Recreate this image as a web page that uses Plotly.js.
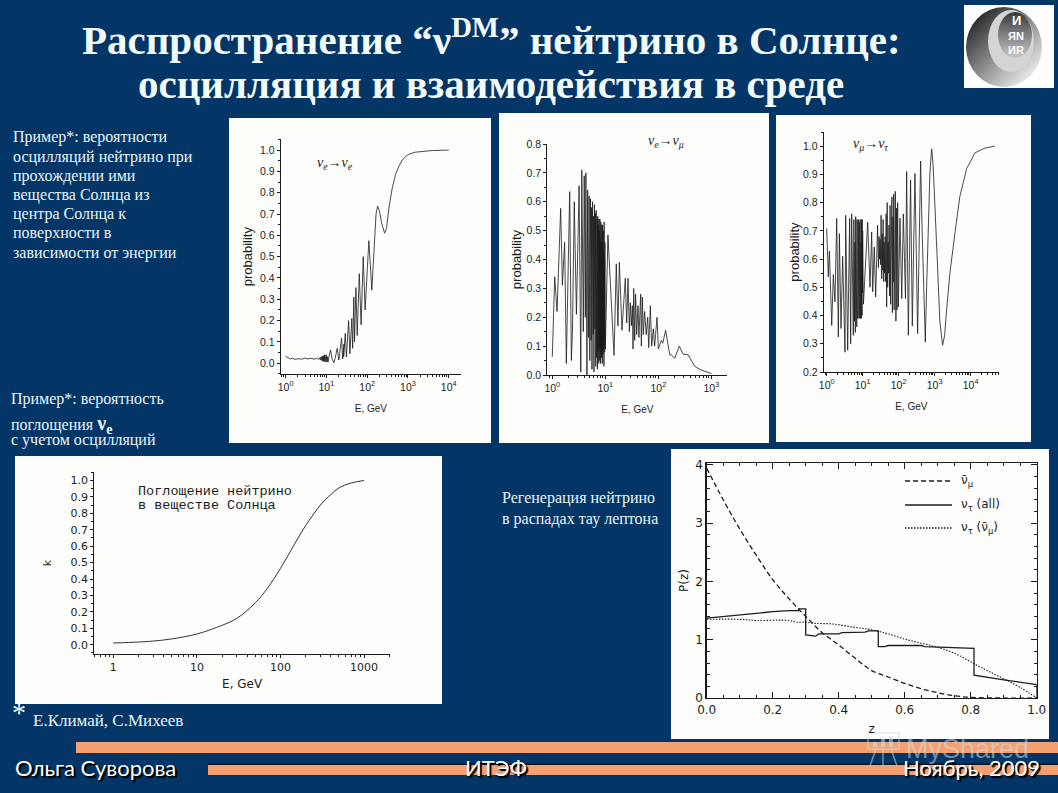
<!DOCTYPE html>
<html><head><meta charset="utf-8">
<script src="https://cdn.plot.ly/plotly-3.0.1.min.js"></script>
<style>html,body{margin:0;padding:0;background:#033567;overflow:hidden}</style>
</head><body><div id="chart" style="width:1058px;height:793px"></div>
<script>
// ---------- data ----------
const eeE=[1,1.15,1.3,1.5,1.7,2,2.5,3,3.5,4,5,6,6.5,7,7.2,7.5,7.8,8,8.2,8.4,8.6,8.8,9,9.2,9.4,9.6,9.8,10,10.3,10.6,11,11.5,12.7,13.8,15.3,16.5,18.4,20.2,23.6,25,27,26.5,29,31,33,32,35,37.7,40,39,42,44,47,49,53,57,64,71,80,89,110,130,150,165,180,200,225,267,300,340,410,495,600,720,870,1050,1500,2000,4000,10000];
const eeP=[.033,.027,.02,.023,.018,.021,.019,.024,.02,.023,.019,.024,.017,.027,.015,.03,.012,.033,.01,.035,.008,.036,.008,.04,.006,.04,.006,.038,.005,.03,.006,.03,.062,.02,.003,.025,.07,.015,.118,.02,.09,.03,.14,.03,.11,.05,.2,.044,.16,.06,.21,.07,.31,.10,.355,.13,.42,.18,.5,.25,.575,.343,.55,.70,.737,.715,.66,.61,.635,.727,.82,.885,.925,.952,.97,.98,.99,.993,.998,1];

const emE=[1,1.11,1.23,1.44,1.55,1.71,1.84,2.13,2.29,2.4,2.6,2.85,3.2,3.45,3.6,3.85,4.0,4.2,4.3,4.5,4.65,4.8,4.95,5.1,5.25,5.4,5.5,5.6,5.75,5.9,6,6.1,6.25,6.35,6.5,6.6,6.72,6.85,7,7.1,7.2,7.3,7.4,7.5,7.58,7.66,7.74,7.82,7.9,7.98,8.06,8.14,8.22,8.3,8.38,8.46,8.54,8.62,8.7,8.78,8.86,8.94,9.02,9.1,9.18,9.26,9.34,9.42,9.5,9.58,9.66,9.74,9.82,10,11.2,14.6,16.1,17.3,18.4,20.6,23.8,25.3,26.8,28.4,29.6,31,32.3,33.3,34.3,35.8,37.3,39,41.3,43,46.4,47.8,49.9,52,55,59,63,65.8,70.6,74.8,80.5,85,94.4,100,114,121,137,152,164,176,203,249,292,363,417,485,646,1000];
const emP=[.063,.34,.22,.577,.311,.46,.04,.635,.05,.15,.6,.21,.655,.01,.71,.15,.69,.2,.7,0,.64,.13,.62,.05,.61,.12,.58,.02,.6,.14,.55,.01,.59,.16,.56,.03,.57,.06,.54,.02,.55,.08,.52,.04,.54,.1,.5,.05,.54,.08,.47,.04,.53,.1,.46,.06,.52,.08,.44,.04,.52,.1,.43,.07,.5,.09,.42,.03,.53,.12,.4,.08,.46,.09,.485,.068,.385,.17,.39,.155,.335,.18,.335,.15,.25,.17,.24,.09,.3,.12,.28,.14,.24,.13,.28,.1,.27,.14,.22,.14,.2,.095,.24,.1,.16,.1,.2,.09,.12,.11,.155,.1,.07,.07,.058,.1,.072,.07,.05,.03,.017,.005];

const mtE=[1,1.11,1.19,1.38,1.53,1.7,1.9,2.11,2.25,2.5,2.78,3.23,3.37,3.83,4.35,4.64,4.95,5.5,5.7,5.9,6.1,6.25,6.4,6.55,6.7,6.85,7,7.15,7.3,7.42,7.54,7.66,7.78,7.9,8.02,8.14,8.26,8.38,8.5,8.6,8.7,8.8,8.9,9,9.1,9.2,9.3,9.4,9.5,9.6,9.7,9.85,10,10.5,13.8,16,17.8,19,21,23,26,27.5,28.5,29.5,30.5,31.5,32.5,34,35,36,37,38.5,39.5,40.5,42,43.5,45,46.5,48,49.5,51,52.5,54,56,58,60,61.5,63,65,67,69,71,73,75,77,79,81,84,87,90,94,98,109,122,135,155,167,186,215,240,284,337,370,408,450,551,600,662,741,826,900,977,1135,1400,1667,1900,2154,2660,3660,5000,7760,13200,25000,47400];
const mtP=[.708,.537,.628,.365,.545,.448,.744,.324,.69,.354,.61,.27,.755,.277,.744,.3,.76,.33,.74,.38,.66,.34,.75,.4,.71,.36,.74,.39,.73,.4,.74,.43,.7,.39,.73,.45,.68,.39,.74,.44,.7,.39,.72,.47,.66,.39,.74,.46,.68,.4,.74,.48,.7,.44,.73,.5,.696,.484,.643,.466,.72,.57,.68,.6,.67,.58,.755,.53,.69,.56,.74,.52,.66,.55,.68,.52,.76,.43,.8,.5,.66,.55,.72,.47,.79,.44,.7,.55,.82,.41,.75,.52,.83,.42,.72,.5,.84,.38,.78,.42,.8,.43,.745,.46,.76,.46,.91,.33,.88,.363,.903,.336,.7,.947,.7,.306,.5,.73,.905,.99,.94,.845,.632,.38,.295,.33,.42,.55,.69,.82,.92,.976,.993,1];

const absE=[1,2,3,5,10,20,30,50,70,100,150,200,300,400,500,700,1000];
const absK=[.01,.016,.022,.035,.065,.118,.16,.255,.345,.465,.62,.725,.85,.915,.955,.985,1];

const numuZ=[0,.05,.1,.15,.2,.25,.3,.35,.4,.45,.5,.55,.6,.65,.7,.75,.8,.9,1];
const numuP=[3.94,3.4,2.9,2.45,2.03,1.7,1.4,1.12,.91,.68,.47,.36,.25,.16,.09,.04,.01,0,0];
const tauAllZ=[0,.05,.1,.15,.2,.25,.28,.28,.3,.3,.33,.34,.4,.41,.48,.49,.52,.52,.54,.55,.65,.66,.7,.75,.81,.81,.85,.9,1,1];
const tauAllP=[1.37,1.4,1.43,1.45,1.48,1.5,1.5,1.53,1.53,1.08,1.06,1.1,1.1,1.12,1.13,1.15,1.15,.88,.88,.9,.9,.88,.87,.86,.85,.39,.36,.31,.23,0];
const tauMuZ=[0,.1,.15,.25,.27,.3,.33,.38,.45,.5,.55,.6,.65,.7,.75,.8,.85,.9,.95,1];
const tauMuP=[1.35,1.35,1.33,1.33,1.3,1.3,1.28,1.27,1.21,1.17,1.1,1.01,.94,.87,.77,.62,.47,.33,.18,0];

const logTicksA=[1,10,100,1000,10000];
const logTicksB=[1,10,100,1000];
const logLabelsA=["10<sup>0</sup>","10<sup>1</sup>","10<sup>2</sup>","10<sup>3</sup>","10<sup>4</sup>"];
const logLabelsB=["10<sup>0</sup>","10<sup>1</sup>","10<sup>2</sup>","10<sup>3</sup>"];
const absLabels=["1","10","100","1000"];

const titleLines=["Распространение “ν<sup>DM</sup>” нейтрино в Солнце:","осцилляция и взаимодействия в среде"];
const oscNote=["Пример*: вероятности","осцилляций нейтрино при","прохождении ими","вещества Солнца из","центра Солнца к","поверхности в","зависимости от энергии"];
const oscNoteY=[137,157,176,195,214,233,253];

// ---------- layout helpers ----------
const W=1058,H=793,BG='#033567',INK='#1c1c1c',PANEL='#fdfefb',BAR='#f4a070',WM='rgba(205,222,228,0.55)';
const fx=p=>p/W, fy=p=>1-p/H;
const SERIF='"Liberation Serif",serif', SANS='"Liberation Sans",Arial,sans-serif', WIDE='"DejaVu Sans",sans-serif';
const annotations=[],shapes=[];
function T(x,y,text,o={}){annotations.push({xref:'paper',yref:'paper',x:fx(x),y:fy(y),text,showarrow:false,borderpad:0,
  xanchor:o.a||'left',yanchor:'middle',textangle:o.rot||0,
  font:{family:o.f||SERIF,size:o.s||16,color:o.c||'#e8f6f6',weight:o.w||'normal',shadow:o.sh||'none'}});}
function R(x0,y0,x1,y1,fill,o={}){shapes.push({type:o.t||'rect',xref:'paper',yref:'paper',x0:fx(x0),x1:fx(x1),y0:fy(y0),y1:fy(y1),
  fillcolor:fill,line:{width:o.lw||0,color:o.lc||fill},layer:o.layer||'below',opacity:o.op==null?1:o.op});}
function L(x0,y,x1,dash){shapes.push({type:'line',xref:'paper',yref:'paper',x0:fx(x0),x1:fx(x1),y0:fy(y),y1:fy(y),line:{width:1.3,color:INK,dash},layer:'above'});}
function S(x0,y0,x1,y1){shapes.push({type:'line',xref:'paper',yref:'paper',x0:fx(x0),x1:fx(x1),y0:fy(y0),y1:fy(y1),line:{width:1.5,color:WM},layer:'above'});}

// white panels
R(229,118,491,443,PANEL); R(499,113,769,443,PANEL); R(776,115,1031,442,PANEL);
R(15,456,442,704,PANEL); R(671,449,1049,739,PANEL);
// footer bars
R(76,742,1058,753,BAR); R(208,765,1058,775,BAR);
R(208,763.5,1058,765,'#0c1420');

function base(font,size){return {showline:true,linecolor:INK,linewidth:1,zeroline:false,showgrid:false,ticks:'outside',ticklen:3,tickcolor:INK,tickwidth:1,
  tickfont:{family:font,size,color:INK}};}
function dom(x0,x1,y0,y1){return {x:[fx(x0),fx(x1)],y:[fy(y1),fy(y0)]};}
const layout={width:W,height:H,margin:{l:0,r:0,t:0,b:0},paper_bgcolor:BG,plot_bgcolor:'rgba(0,0,0,0)',showlegend:false,annotations,shapes,
  images:[{source:'data:image/svg+xml;utf8,'+encodeURIComponent('<svg xmlns="http://www.w3.org/2000/svg" width="90" height="83"><defs><linearGradient id="g" x1="0.1" y1="0.1" x2="0.9" y2="0.95"><stop offset="0" stop-color="#222"/><stop offset="0.55" stop-color="#9a9a9a"/><stop offset="1" stop-color="#fafafa"/></linearGradient><linearGradient id="h" x1="0" y1="0" x2="0" y2="1"><stop offset="0" stop-color="#3a3a3a"/><stop offset="1" stop-color="#c8c8c8"/></linearGradient></defs><rect width="90" height="83" fill="#fff"/><ellipse cx="40" cy="42" rx="38" ry="40" fill="url(#g)"/><ellipse cx="47" cy="36" rx="23" ry="31" fill="#d4d4d4"/><ellipse cx="51" cy="30" rx="17" ry="23" fill="url(#h)"/></svg>'),
    xref:'paper',yref:'paper',x:fx(964),y:fy(5),sizex:fx(90),sizey:83/H,xanchor:'left',yanchor:'top',sizing:'stretch',layer:'below'}]};

function panel(n,d,xa,ya){const s=n===1?'':n;
  layout['xaxis'+s]=Object.assign(base(xa.font,xa.size),{domain:d.x,anchor:'y'+s},xa.o);
  layout['yaxis'+s]=Object.assign(base(ya.font,ya.size),{domain:d.y,anchor:'x'+s},ya.o);}
function eTitle(t,st,f,size){return {text:t,standoff:st,font:{family:f,size,color:INK}};}
const minorX={ticks:'outside',ticklen:2,tickcolor:INK,dtick:'D1',showgrid:false};
const minorY={ticks:'outside',ticklen:2,tickcolor:INK,dtick:.05,showgrid:false};

panel(1,dom(280.7,461,139,374.3),
 {font:SANS,size:10.5,o:{type:'log',range:[-.12,4.3],tickmode:'array',tickvals:logTicksA,ticktext:logLabelsA,minor:minorX,title:eTitle('E, GeV',13,SANS,10)}},
 {font:SANS,size:10.5,o:{range:[-.052,1.052],tick0:0,dtick:.1,tickformat:'.1f',minor:minorY,title:eTitle('probability',4,SANS,13)}});
panel(2,dom(547.3,727.3,144,375),
 {font:SANS,size:10.5,o:{type:'log',range:[-.094,3.3],tickmode:'array',tickvals:logTicksB,ticktext:logLabelsB,minor:minorX,title:eTitle('E, GeV',13,SANS,10)}},
 {font:SANS,size:10.5,o:{range:[0,.8],tick0:0,dtick:.1,tickformat:'.1f',minor:minorY,title:eTitle('probability',2,SANS,13)}});
panel(3,dom(823.7,999,132,372),
 {font:SANS,size:10.5,o:{type:'log',range:[-.083,4.79],tickmode:'array',tickvals:logTicksA,ticktext:logLabelsA,minor:minorX,title:eTitle('E, GeV',13,SANS,10)}},
 {font:SANS,size:10.5,o:{range:[.2,1.05],tick0:.2,dtick:.1,tickformat:'.1f',minor:minorY,title:eTitle('probability',0,SANS,13)}});
panel(4,dom(94.3,390,472.3,653.7),
 {font:WIDE,size:11,o:{type:'log',range:[-.228,3.31],tickmode:'array',tickvals:logTicksB,ticktext:absLabels,minor:minorX,title:eTitle('E, GeV',6,WIDE,12)}},
 {font:WIDE,size:11,o:{range:[-.055,1.05],tick0:0,dtick:.1,tickformat:'.1f',minor:minorY,title:eTitle('k',16,WIDE,11)}});
panel(5,dom(706.7,1036.7,463,698),
 {font:WIDE,size:12,o:{range:[0,1],tick0:0,dtick:.2,tickformat:'.1f',ticks:'inside',ticklen:6,mirror:'allticks',linewidth:1.3,
   minor:{ticks:'inside',ticklen:3,dtick:.05,tickcolor:INK},title:eTitle('z',9,WIDE,12)}},
 {font:WIDE,size:12,o:{range:[0,4.03],tick0:0,dtick:1,ticks:'inside',ticklen:6,mirror:'allticks',linewidth:1.3,
   minor:{ticks:'inside',ticklen:3,dtick:.2,tickcolor:INK},title:eTitle('P(z)',4,WIDE,12)}});

const tr=(x,y,s,w,dash,shape)=>({x,y,xaxis:'x'+s,yaxis:'y'+s,type:'scatter',mode:'lines',hoverinfo:'skip',line:{color:INK,width:w,dash:dash||'solid',shape:shape||'linear'}});
const data=[tr(eeE,eeP,'',.8),tr(emE,emP,'2',.8),tr(mtE,mtP,'3',.8),tr(absE,absK,'4',.9,'solid','spline'),
  tr(numuZ,numuP,'5',1.3,'5px,3px','spline'),tr(tauAllZ,tauAllP,'5',1.3),tr(tauMuZ,tauMuP,'5',1.1,'1.5px,1.5px','spline')];

// title and notes
T(491,37,titleLines[0],{a:'center',s:41,w:'bold',c:'#f2fafa'});
T(491,84,titleLines[1],{a:'center',s:41,w:'bold',c:'#f2fafa'});
oscNote.forEach((t,i)=>T(12,oscNoteY[i],t));
T(10,399,'Пример*: вероятность');
T(10,424,'поглощения <b style="font-size:20px">ν<sub>e</sub></b>');
T(10,440,'с учетом осцилляций');
T(501,498,'Регенерация нейтрино');
T(501,519,'в распадах тау лептона');
T(11,712,'*',{s:28,c:'#ffffff'});
T(32,720,'Е.Климай, С.Михеев',{s:17});
// channel labels in the panels
T(316,163,'<i>ν<sub>e</sub></i>→<i>ν<sub>e</sub></i>',{c:INK,s:14});
T(647,142,'<i>ν<sub>e</sub></i>→<i>ν<sub>μ</sub></i>',{c:INK,s:14});
T(852,144,'<i>ν<sub>μ</sub></i>→<i>ν<sub>τ</sub></i>',{c:INK,s:14});
T(137,491,'Поглощение нейтрино',{c:INK,s:13.5,f:'"Liberation Mono",monospace'});
T(137,505,'в веществе Солнца',{c:INK,s:13.5,f:'"Liberation Mono",monospace'});
// legend of the last panel
L(905,481,952,'5px,3px'); L(905,505,952); L(905,528,952,'1.5px,1.5px');
T(960,481,'ν̄<sub>μ</sub>',{c:INK,s:12,f:WIDE});
T(960,505,'ν<sub>τ</sub> (all)',{c:INK,s:12,f:WIDE});
T(960,528,'ν<sub>τ</sub> (ν̄<sub>μ</sub>)',{c:INK,s:12,f:WIDE});
// logo letters
T(1016,21,'И',{a:'center',s:13,w:'bold',f:SANS,c:'#fff'});
T(1016,36,'ЯN',{a:'center',s:11,w:'bold',f:SANS,c:'#fff'});
T(1016,50,'ИR',{a:'center',s:11,w:'bold',f:SANS,c:'#fff'});
// footer
const SH='1px 1px 1px #000, 2px 2px 1px #000';
T(14,767,'Ольга Суворова',{s:22,f:'Lato,"Noto Sans",sans-serif',c:'#ffffff',sh:SH});
T(496,767,'ИТЭФ',{a:'center',s:22,f:'Lato,"Noto Sans",sans-serif',c:'#ffffff',sh:SH});
T(1041,767,'Ноябрь, 2009',{a:'right',s:22,f:'Lato,"Noto Sans",sans-serif',c:'#ffffff',sh:SH});
// watermark
T(905,749,'MyShared',{s:27,f:SANS,c:WM});
R(868,733,899,749,'rgba(0,0,0,0)',{lw:1.5,lc:WM,layer:'above'});
R(873,742,877,747,WM,{layer:'above'});R(881,739,885,747,WM,{layer:'above'});R(889,736,893,747,WM,{layer:'above'});
S(876,749,870,766);S(891,749,897,766);S(883,749,883,766);

Plotly.newPlot('chart',data,layout,{displayModeBar:false,staticPlot:true});
</script></body></html>
